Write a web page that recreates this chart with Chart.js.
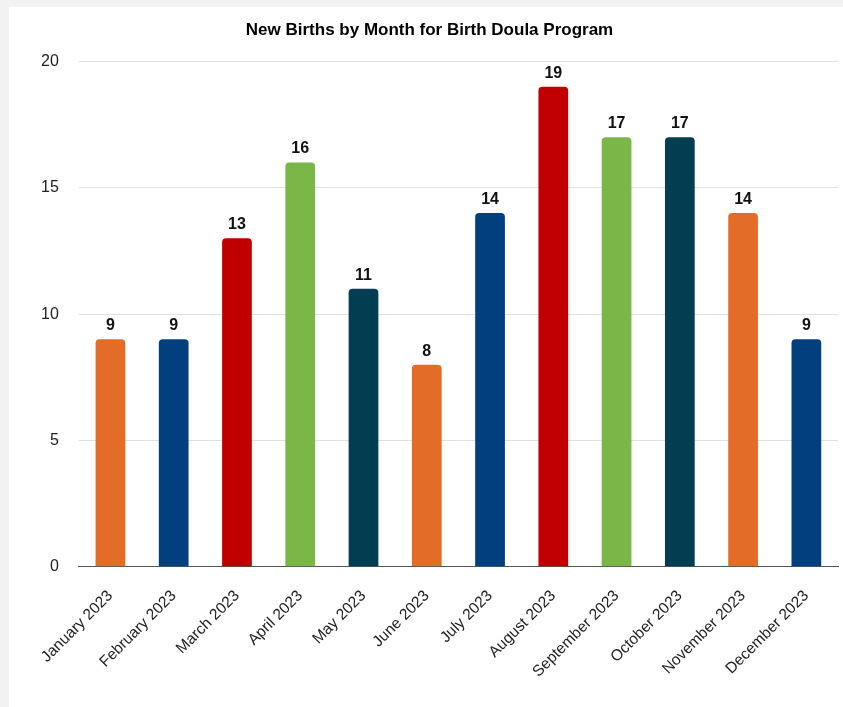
<!DOCTYPE html>
<html>
<head>
<meta charset="utf-8">
<script src="https://cdn.jsdelivr.net/npm/chart.js@4"></script>
<style>
  body { margin: 0; background: #f2f2f2; }
  .card { position: absolute; left: 9px; top: 7px; width: 834px; height: 700px; background: #fff; }
</style>
</head>
<body>
<div class="card"><canvas id="birthsChart" width="834" height="700"></canvas></div>
<script>
// chart data
const months = ['January 2023', 'February 2023', 'March 2023', 'April 2023', 'May 2023', 'June 2023',
    'July 2023', 'August 2023', 'September 2023', 'October 2023', 'November 2023', 'December 2023'];
const births = [9, 9, 13, 16, 11, 8, 14, 19, 17, 17, 14, 9];
const yTicks = [0, 5, 10, 15, 20];
const barColors = ['#e36c28', '#023f7e', '#c00000', '#7ab648', '#023e52', '#e36c28',
    '#023f7e', '#c00000', '#7ab648', '#023e52', '#e36c28', '#023f7e'];

const fontFamily = '"Liberation Sans", Arial, sans-serif';

// draws the number above each bar
const valueLabels = {
    id: 'valueLabels',
    afterDatasetsDraw(chart) {
        const ctx = chart.ctx;
        const meta = chart.getDatasetMeta(0);
        ctx.save();
        ctx.font = 'bold 16px ' + fontFamily;
        ctx.fillStyle = '#111';
        ctx.textAlign = 'center';
        ctx.textBaseline = 'alphabetic';
        meta.data.forEach((bar, i) => {
            ctx.fillText(births[i], bar.x, bar.y - 9);
        });
        ctx.restore();
    }
};

const ctx = document.getElementById('birthsChart').getContext('2d');
new Chart(ctx, {
    type: 'bar',
    data: {
        labels: months,
        datasets: [{
            label: 'New Births',
            data: births,
            backgroundColor: barColors,
            borderRadius: { topLeft: 4, topRight: 4 },
            borderSkipped: 'bottom',
            barPercentage: 0.47,
            categoryPercentage: 1
        }]
    },
    options: {
        responsive: false,
        animation: false,
        layout: { padding: { left: 12, right: 5, top: 9, bottom: 14 } },
        plugins: {
            legend: { display: false },
            tooltip: { enabled: false },
            title: {
                display: true,
                text: 'New Births by Month for Birth Doula Program',
                color: '#000',
                font: { family: fontFamily, size: 17, weight: 'bold' },
                padding: { top: 4, bottom: 21 }
            }
        },
        scales: {
            x: {
                grid: { display: false },
                border: { color: '#555', width: 1 },
                ticks: {
                    color: '#222',
                    font: { family: fontFamily, size: 15.5 },
                    minRotation: 45,
                    maxRotation: 45,
                    padding: 12
                }
            },
            y: {
                min: 0,
                max: 20,
                afterBuildTicks(scale) {
                    scale.ticks = yTicks.map(v => ({ value: v }));
                },
                border: { display: false },
                grid: {
                    color: c => c.tick.value === 0 ? '#555' : '#e0e0e0',
                    drawTicks: false
                },
                ticks: {
                    color: '#222',
                    font: { family: fontFamily, size: 16 },
                    padding: 20
                }
            }
        }
    },
    plugins: [valueLabels]
});
</script>
</body>
</html>
